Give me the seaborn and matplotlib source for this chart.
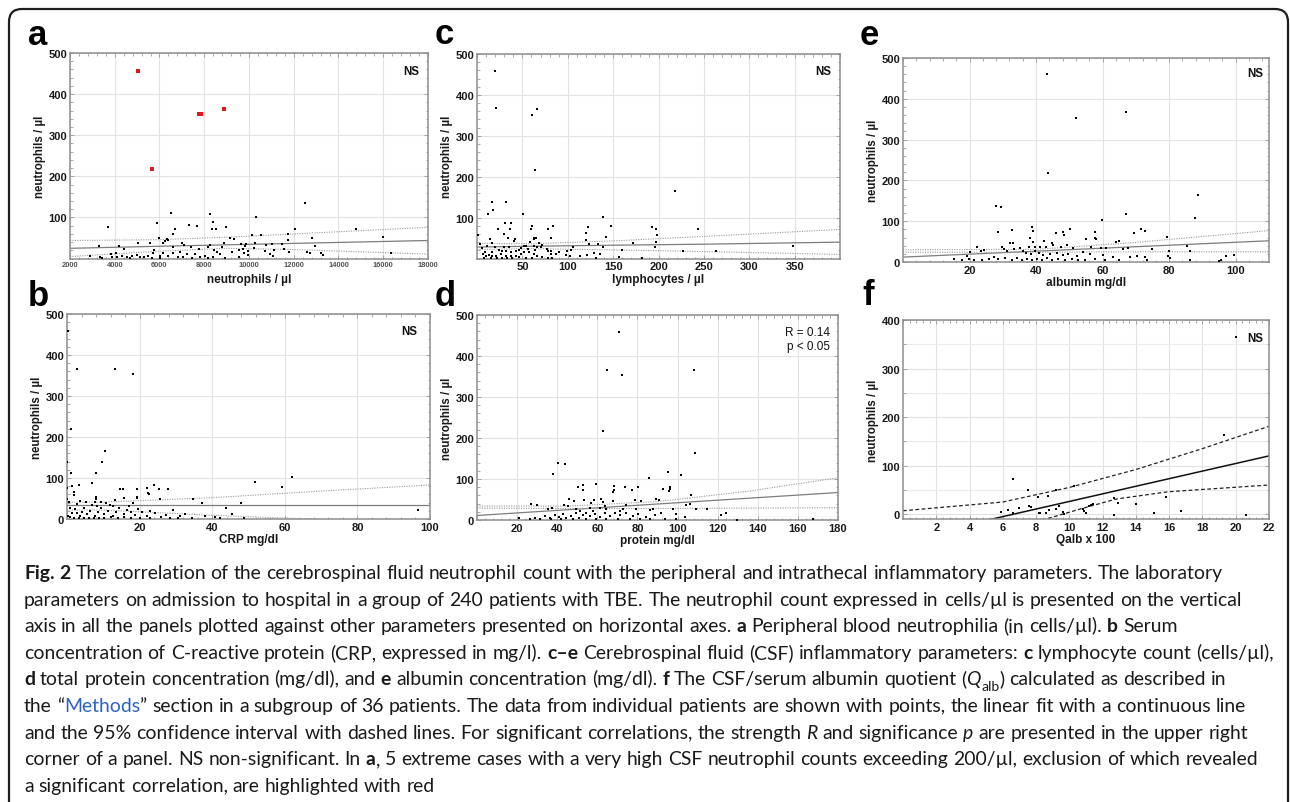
import re
import matplotlib
matplotlib.use("Agg")
import matplotlib.pyplot as plt
import seaborn as sns
import pandas as pd
from matplotlib.transforms import IdentityTransform
from matplotlib.patches import FancyBboxPatch
from matplotlib.ticker import MultipleLocator, AutoMinorLocator

# ---------------- data ----------------
# panel a: peripheral neutrophils (x) vs CSF neutrophils (y)
a_points = [(3685,78),(6518,110),(8277,108),(10335,102),(12482,136),(5877,86),(7323,81),(7696,80),
            (8396,88),(8366,73),(8530,73),(8993,76),(6711,72),(14793,73),(15986,52),(16344,13),
            (12064,72),(11721,61),(11765,46),(12810,49),(10153,58),(10526,57),(9173,49),(9322,47),
            (5981,51),(6592,59),(6323,48),(6398,45),(6249,42),(6175,39),(5563,37),(5057,37),
            (3282,31),(4177,31),(4400,23),(5772,22),(6622,27),(7025,37),(7100,34),(7413,29),
            (7785,24),(8262,34),(8158,27),(8441,22),(8888,39),(8798,28),(9575,22),(9635,36),
            (9828,31),(9888,36),(9739,23),(9933,18),(9769,13),(9962,8),(10216,25),(10290,37),
            (10693,18),(10767,33),(11050,36),(11125,20),(10960,12),(11065,7),(11468,36),(11572,23),
            (11781,15),(12601,17),(12735,14),(12958,31),(13197,13),(13287,9),(9560,5),(9232,15),
            (8709,11),(8575,15),(8411,3),(8024,7),(7591,10),(7249,12),(6920,15),(6845,5),
            (6607,13),(6398,7),(6175,13),(6026,7),(5728,13),(5474,7),(5290,4),(5141,3),
            (4992,9),(4768,6),(4545,4),(4321,7),(4097,4),(3873,3),(3425,2),(2895,6),
            (3350,3),(7070,3),(7442,2),(7815,3),(8188,2),(8933,2),(6026,2),(5653,2),
            (4684,2),(3850,12),(4060,13)]
a_red_points = [(5053,457),(5650,217),(7750,352),(7870,352),(8900,364)]
a_fit_x = [2000, 6000, 9000, 12000, 18000]
a_fit_y = [25, 30, 33.5, 37, 44]
a_up_y = [44, 46, 52, 60, 76]
a_lo_y = [5, 18, 25, 22, 11]

# panel c: CSF lymphocytes
c_points = [(19.7,459),(20.4,367),(61,352),(66.6,366),(64,217),(218.5,164),(16.4,137),(32,138),
            (18,119),(12.3,110),(51,109),(139,102),(30.8,88),(38,86),(23.4,72),(36.7,71),
            (60.3,80),(60,72),(78,73),(83.6,80),(122.8,78),(148,80),(193,76),(197,72),
            (243,73),(1.2,57),(29.3,59),(34.5,49),(41.5,48),(41,44),(63,50),(65,49),
            (62.7,48),(82,49),(120,62),(142,53),(198.7,57),(120,45),(123.6,35),(132.8,35),
            (138.4,27),(171.9,37),(197,40),(196,27),(159.7,22),(227.4,18),(263.6,19),(348,31),
            (105.4,27),(104,22),(99,18),(90.6,15),(98,9),(102.5,5),(114,5),(121.7,9),
            (129,13),(135.7,12),(131,2),(156,3),(182,1),(87,11),(82,18),(77,23),
            (70.7,28),(68.5,37),(63,31),(58.5,40),(54.4,31),(56.3,23),(51.8,17),(48,12),
            (42.6,7),(37,5),(31.5,7),(26,11),(21.2,7),(16.7,5),(13,9),(9.4,5),
            (6.4,10),(3,36),(13.8,47),(16.7,37),(10.5,31),(19.7,27),(24,22),(27.8,18),
            (32,18),(37,15),(42.6,18),(46.3,22),(51.8,31),(57.4,15),(63,11),(66.6,7),
            (72,3),(77.7,2),(83,2),(46,3),(39,2),(22,2),(28,2),(33,2),
            (53.7,2),(61,2),(15,2),(7.5,2),(8.6,17),(5.7,25),(16.7,15),(30,29),
            (35,27),(48,25),(64,22),(66.6,27),(71.4,33),(77.7,19),(81,10)]
c_fit_x = [0, 60, 150, 250, 400]
c_fit_y = [28, 30, 32.5, 35, 40]
c_up_y = [37, 36, 43, 54, 71]
c_lo_y = [22, 24, 21, 17, 10]

# panel e: CSF albumin
e_points = [(43.2,460),(52.1,354),(66.9,367),(43.5,219),(88.6,165),(28,138),(29.4,136),(66.9,118),
            (87.7,109),(59.7,102),(38.8,85),(39.1,75),(28.7,73),(32.8,79),(50.1,82),(45.9,71),
            (48.1,73),(48.4,65),(57.8,73),(71.4,82),(72.7,76),(69.5,72),(79.4,61),(64,49),
            (65,52),(57.9,56),(57.7,59),(55.1,57),(42.3,51),(38.2,58),(39,49),(45,41),
            (44.9,47),(49.4,42),(51,35),(32.2,47),(33.2,46),(37.9,37),(39.8,37),(41.2,37),
            (42.9,37),(47.4,37),(56.4,37),(61,34),(59.4,34),(67.7,35),(66.2,31),(74.7,31),
            (85.4,38),(86.2,27),(80,26),(79.7,15),(80.1,10),(22.2,37),(23.5,27),(24.2,29),
            (29.7,36),(30.4,31),(31.2,27),(33.5,31),(35.2,35),(36.2,27),(37,23),(38.5,20),
            (39.7,26),(40.9,23),(42.2,18),(44.2,20),(46.2,23),(48.2,16),(49.7,20),(52.2,15),
            (54.2,25),(56.2,20),(60.2,16),(63.2,12),(64.8,4),(68.2,12),(70.2,15),(72.7,12),
            (73.2,4),(97.2,15),(99.4,16),(94.9,2),(95.7,4),(86.2,4),(19.2,15),(19.7,8),
            (17.7,4),(15.2,7),(25.7,8),(27.2,12),(28.7,7),(30.7,10),(32.7,6),(34.2,10),
            (35.7,4),(37.2,8),(38.7,4),(40.2,8),(41.7,4),(43.2,10),(44.7,4),(46.7,8),
            (48.7,4),(50.7,7),(52.7,4),(54.7,4),(57.7,7),(60.7,4),(21.2,4),(23.7,4),(20.2,25)]
e_fit_x = [0, 40, 70, 110]
e_fit_y = [12, 26.5, 37.5, 52]
e_up_y = [30, 31, 48, 77]
e_lo_y = [24, 24, 25, 25]

# panel b: CRP
b_points = [(0.2,459),(2.8,367),(13.2,367),(18.1,354),(1.1,220),(10.4,165),(0,140),(9.6,138),
            (1.1,111),(7.9,111),(51.7,90),(59.3,77),(61.9,103),(96.6,21),(0,76),(1.4,80),
            (1.8,66),(1.8,59),(3.4,84),(6.8,87),(7.9,49),(8.1,53),(14.7,72),(15.3,74),
            (19.3,72),(19.3,53),(19.3,51),(15.8,51),(13.2,46),(22,75),(23.9,83),(22.3,63),
            (22.5,60),(25.4,72),(27.9,73),(25.6,48),(34.7,50),(37.1,39),(47.8,38),(43.8,28),
            (45.5,12),(48.7,2),(40.7,6),(42.1,3),(38,8),(32.6,11),(31,7),(29.1,23),
            (27.4,10),(26,4),(24.2,14),(23,20),(22.1,7),(20.6,16),(19.5,24),(18.6,10),
            (17.7,16),(16.6,23),(15.6,12),(14.4,26),(13.5,16),(12.6,8),(11.9,34),(11.2,20),
            (10.2,12),(9.5,26),(8.6,16),(7.6,7),(7,33),(6.3,20),(5.6,12),(4.8,26),
            (4.2,16),(3.5,7),(2.8,37),(2.1,24),(1.5,15),(0.7,28),(0.2,8),(0,49),
            (0.5,41),(0.9,4),(1.9,2),(3.3,2),(4.7,2),(6,2),(7.4,2),(8.8,2),
            (10.2,2),(12,4),(14,2),(15.8,4),(17.7,2),(20,3),(22.8,2),(28.4,2),
            (30.7,2),(34.4,2),(3.7,45),(5.1,42),(7.6,41),(9.3,42),(10.7,39),(18.1,38),
            (17.2,31),(12.6,31),(8.4,31),(2.8,15)]
b_fit_x = [0, 10, 40, 70, 100]
b_fit_y = [33, 33, 33, 33, 33]
b_up_y = [41, 41, 52, 68, 83]
b_lo_y = [22, 22, 9, -1, -12]

# panel d: CSF protein
d_points = [(70.7,459),(65,366),(72.2,353),(108.2,366),(63,218),(108.7,164),(40.2,138),(44.1,137),
            (37.7,111),(95.4,118),(101.7,109),(86,103),(59.4,89),(53,86),(53,74),(50.5,80),
            (68.5,82),(67.6,69),(68.5,72),(77.1,74),(74,81),(80.3,81),(95.7,71),(96.4,81),
            (96.1,75),(92.8,75),(106.9,62),(81.8,46),(78.6,48),(89.4,52),(90.8,50),(58.5,50),
            (61.7,51),(62.7,44),(67.6,47),(53.2,49),(48.4,47),(45.7,51),(43.2,36),(45.5,33),
            (26.8,38),(29.9,37),(35.4,28),(37.6,30),(106.2,38),(104,36),(109,28),(114.5,28),
            (124.2,18),(121.9,11),(129.7,1),(167.6,2),(103.7,8),(99,14),(91.9,16),(88.6,12),
            (84.4,8),(80.3,14),(77.8,9),(74.5,18),(71.2,11),(68.7,18),(66.2,10),(63.7,16),
            (61.2,8),(58.7,15),(56.2,10),(54.5,18),(52.9,11),(50.9,6),(49.2,16),(47,10),
            (44.6,6),(42.9,14),(40.9,8),(38.7,11),(36.2,6),(33.7,10),(31.3,3),(28.8,6),
            (21,6),(26.3,2),(37.1,2),(42.1,2),(47.9,2),(54.5,2),(59.5,2),(64.5,2),
            (70.3,2),(76.1,2),(81.1,2),(86.1,2),(93.6,2),(99.4,2),(49.6,26),(56.2,30),
            (61.2,30),(64.5,26),(72.8,28),(79.5,26),(87.8,28),(97.8,28),(51.2,22),(57.9,22),
            (71.2,22),(86.1,24),(57,41),(63.7,34),(74.5,36)]
d_fit_x = [0, 45, 90, 135, 180]
d_fit_y = [11, 25, 39, 53, 67]
d_up_y = [34, 34, 45, 70, 103]
d_lo_y = [29, 28, 28, 29, 30]

# panel f: Qalb x 100 (subgroup of 36 patients)
f_points = [(20,366),(19.3,164),(6.6,73),(7.5,49),(9.2,49),(10.3,57),(8.1,36),(8.7,38),
            (7.6,16),(7.7,15),(9.4,17),(5.9,5),(6.3,8),(6.6,3),(7.0,12),(8.2,3),
            (8.25,3),(8.6,3),(8.8,9),(9.2,10),(9.6,5),(9.7,0),(10.8,10),(10.9,7),
            (11,3),(11.3,18),(11.4,21),(12.7,34),(12.9,22),(12.7,-1),(14,21),(15.1,3),
            (15.8,36),(16.7,7),(20.6,-1),(11.2,16)]
f_fit_x = [0, 22]
f_fit_y = [-52, 120]
f_up_x = [0, 6, 10, 14, 18, 22]
f_up_y = [7, 25, 55, 92, 135, 181]
f_lo_x = [8.0, 10.8, 12.8, 15.9, 22]
f_lo_y = [-16, 12, 31, 46, 60]

caption_lines = [
    "[b]Fig. 2[/b] The correlation of the cerebrospinal fluid neutrophil count with the peripheral and intrathecal inflammatory parameters. The laboratory",
    "parameters on admission to hospital in a group of 240 patients with TBE. The neutrophil count expressed in cells/µl is presented on the vertical",
    "axis in all the panels plotted against other parameters presented on horizontal axes. [b]a[/b] Peripheral blood neutrophilia (in cells/µl). [b]b[/b] Serum",
    "concentration of C-reactive protein (CRP, expressed in mg/l). [b]c–e[/b] Cerebrospinal fluid (CSF) inflammatory parameters: [b]c[/b] lymphocyte count (cells/µl),",
    "[b]d[/b] total protein concentration (mg/dl), and [b]e[/b] albumin concentration (mg/dl). [b]f[/b] The CSF/serum albumin quotient ([i]Q[/i][sub]alb[/sub]) calculated as described in",
    "the “[u]Methods[/u]” section in a subgroup of 36 patients. The data from individual patients are shown with points, the linear fit with a continuous line",
    "and the 95% confidence interval with dashed lines. For significant correlations, the strength [i]R[/i] and significance [i]p[/i] are presented in the upper right",
    "corner of a panel. NS non-significant. In [b]a[/b], 5 extreme cases with a very high CSF neutrophil counts exceeding 200/µl, exclusion of which revealed",
    "a significant correlation, are highlighted with red",
]

# ---------------- figure ----------------
sns.set_theme(style="whitegrid")
plt.rcParams['font.family'] = ['Liberation Sans', 'DejaVu Sans']
plt.rcParams['axes.unicode_minus'] = False

W, H = 1290, 803
fig = plt.figure(figsize=(W / 100, H / 100), dpi=100)
fig.patch.set_facecolor('white')


def rect(x0, y0, x1, y1):
    return [x0 / W, 1 - y1 / H, (x1 - x0) / W, (y1 - y0) / H]


def df_of(points):
    return pd.DataFrame(points, columns=['x', 'y'])


panels = [
    dict(letter='a', lpos=(28, 45), box=(70, 54, 428, 259.6), pts=a_points, red=a_red_points,
         fit=(a_fit_x, a_fit_y), up=(a_fit_x, a_up_y), lo=(a_fit_x, a_lo_y),
         xlim=(2000, 18000), ylim=(0, 500), xticks=list(range(2000, 18001, 2000)), xtick_size=5.4,
         yticks=[100, 200, 300, 400, 500], xlabel='neutrophils / µl', labelpad=3.5,
         note='NS', npos=(0.975, 0.94), kind='gray'),
    dict(letter='c', lpos=(435, 44), box=(477, 55, 840, 259.5), pts=c_points, red=None,
         fit=(c_fit_x, c_fit_y), up=(c_fit_x, c_up_y), lo=(c_fit_x, c_lo_y),
         xlim=(0, 400), ylim=(0, 500), xticks=[50, 100, 150, 200, 250, 300, 350], xtick_size=8,
         yticks=[100, 200, 300, 400, 500], xlabel='lymphocytes / µl', labelpad=1,
         note='NS', npos=(0.975, 0.948), kind='gray'),
    dict(letter='e', lpos=(860, 45), box=(903, 59, 1269, 263), pts=e_points, red=None,
         fit=(e_fit_x, e_fit_y), up=(e_fit_x, e_up_y), lo=(e_fit_x, e_lo_y),
         xlim=(0, 110), ylim=(0, 500), xticks=[20, 40, 60, 80, 100], xtick_size=8,
         yticks=[0, 100, 200, 300, 400, 500], xlabel='albumin mg/dl', labelpad=1,
         note='NS', npos=(0.985, 0.954), kind='gray'),
    dict(letter='b', lpos=(28, 306), box=(67, 315, 430, 520), pts=b_points, red=None,
         fit=(b_fit_x, b_fit_y), up=(b_fit_x, b_up_y), lo=(b_fit_x, b_lo_y),
         xlim=(0, 100), ylim=(0, 500), xticks=[20, 40, 60, 80, 100], xtick_size=8,
         yticks=[0, 100, 200, 300, 400, 500], xlabel='CRP mg/dl', labelpad=1,
         note='NS', npos=(0.966, 0.946), kind='gray'),
    dict(letter='d', lpos=(435, 306), box=(477, 316, 838, 521), pts=d_points, red=None,
         fit=(d_fit_x, d_fit_y), up=(d_fit_x, d_up_y), lo=(d_fit_x, d_lo_y),
         xlim=(0, 180), ylim=(0, 500), xticks=[20, 40, 60, 80, 100, 120, 140, 160, 180], xtick_size=8,
         yticks=[0, 100, 200, 300, 400, 500], xlabel='protein mg/dl', labelpad=1,
         note='R = 0.14\np < 0.05', npos=(0.978, 0.948), kind='gray'),
    dict(letter='f', lpos=(862, 305), box=(903, 321, 1269, 520), pts=f_points, red=None,
         fit=(f_fit_x, f_fit_y), up=(f_up_x, f_up_y), lo=(f_lo_x, f_lo_y),
         xlim=(0, 22), ylim=(-10, 400), xticks=[2, 4, 6, 8, 10, 12, 14, 16, 18, 20, 22], xtick_size=8,
         yticks=[0, 100, 200, 300, 400], xlabel='Qalb x 100', labelpad=1,
         note='NS', npos=(0.985, 0.938), kind='black'),
]

for p in panels:
    ax = fig.add_axes(rect(*p['box']))
    ax.set_facecolor('white')
    if p['kind'] == 'gray':
        lc, bc, lw, bls, blw = '#7d7d7d', '#9a9a9a', 0.9, (0, (1, 1.2)), 0.8
    else:
        lc, bc, lw, bls, blw = '#111111', '#222222', 1.1, (0, (3, 2)), 0.9
    fx, fy = p['fit']
    sns.lineplot(x=fx, y=fy, ax=ax, color=lc, lw=lw, estimator=None, sort=True, zorder=2)
    ux, uy = p['up']
    sns.lineplot(x=ux, y=uy, ax=ax, color=bc, lw=blw, linestyle=bls, estimator=None, sort=True, zorder=2)
    lx, ly = p['lo']
    sns.lineplot(x=lx, y=ly, ax=ax, color=bc, lw=blw, linestyle=bls, estimator=None, sort=True, zorder=2)
    sns.scatterplot(data=df_of(p['pts']), x='x', y='y', ax=ax, color='black', marker='s',
                    s=4.2, linewidth=0, zorder=3, clip_on=True)
    if p['red'] is not None:
        sns.scatterplot(data=df_of(p['red']), x='x', y='y', ax=ax, color='#e5161d', marker='s',
                        s=5.5, linewidth=0, zorder=4)
    ax.set_xlim(*p['xlim'])
    ax.set_ylim(*p['ylim'])
    ax.set_xticks(p['xticks'], labels=[str(t) for t in p['xticks']],
                  fontsize=p['xtick_size'], fontweight='bold',
                  color='#555555' if p['letter'] == 'a' else '#1a1a1a')
    ax.set_yticks(p['yticks'], labels=[str(t) for t in p['yticks']],
                  fontsize=8, fontweight='bold', color='#1a1a1a')
    ax.xaxis.set_minor_locator(AutoMinorLocator(5))
    if p['letter'] == 'f':
        ax.yaxis.set_minor_locator(MultipleLocator(50))
        ax.grid(True, which='minor', axis='y', color='#ebebeb', lw=0.8)
    else:
        ax.yaxis.set_minor_locator(AutoMinorLocator(5))
    ax.grid(True, which='major', color='#e2e2e2', lw=0.8)
    ax.set_axisbelow(True)
    ax.tick_params(which='both', direction='in', top=True, right=True, bottom=True, left=True,
                   color='#9a9a9a', width=0.6)
    ax.tick_params(which='major', length=3, pad=2)
    ax.tick_params(which='minor', length=1.8)
    for s in ax.spines.values():
        s.set_color('#8e8e8e')
        s.set_linewidth(1.1)
    ax.set_xlabel(p['xlabel'], fontsize=8.5, fontweight='bold', color='#1a1a1a', labelpad=p['labelpad'])
    ax.set_ylabel('neutrophils / µl', fontsize=8.3, fontweight='bold', color='#1a1a1a', labelpad=2)
    ax.text(p['npos'][0], p['npos'][1], p['note'], transform=ax.transAxes, ha='right', va='top',
            fontsize=8.3 if p['note'] == 'NS' else 8.5,
            fontweight='bold' if p['note'] == 'NS' else 'normal', color='#111111',
            linespacing=1.25)
    fig.text(p['lpos'][0], H - p['lpos'][1], p['letter'], transform=IdentityTransform(),
             fontsize=25, fontweight='bold', color='black', ha='left', va='baseline')

# outer rounded frame (bottom edge runs off the picture)
frame = FancyBboxPatch((9, -40), 1279, H - 10 + 40, boxstyle='round,pad=0,rounding_size=13',
                       transform=IdentityTransform(), fill=False, edgecolor='#1e1e1e', lw=1.6)
fig.add_artist(frame)

# ---------------- caption with mixed styles ----------------
renderer = fig.canvas.get_renderer()
CAP_FONT = ['Lato', 'DejaVu Sans']


def parse(line):
    state = {'b': False, 'i': False, 'u': False, 'sub': False}
    runs = []
    for tok in re.split(r'(\[/?(?:b|i|u|sub)\])', line):
        m = re.fullmatch(r'\[(/?)(b|i|u|sub)\]', tok)
        if m:
            state[m.group(2)] = (m.group(1) == '')
        elif tok:
            runs.append((tok, dict(state)))
    return runs


def props_of(st, size):
    return dict(family=CAP_FONT, fontsize=size * (0.72 if st['sub'] else 1.0),
                fontweight='bold' if st['b'] else 'normal',
                fontstyle='italic' if st['i'] else 'normal',
                color='#2b62c4' if st['u'] else '#1a1a1a')


_cache = {}


def width_of(s, pr):
    key = (s, tuple(sorted((k, str(v)) for k, v in pr.items() if k != 'color')))
    if key not in _cache:
        t = fig.text(0, 0, s, transform=IdentityTransform(), **pr)
        _cache[key] = t.get_window_extent(renderer).width
        t.remove()
    return _cache[key]


def advance(s, pr):
    return width_of('|' + s + '|', pr) - width_of('||', pr)


def layout(line, size, x0, base, draw):
    x = x0
    for text, st in parse(line):
        pr = props_of(st, size)
        dy = -0.28 * size * 100 / 72 if st['sub'] else 0
        for piece in re.split(r'( )', text):
            if piece == '':
                continue
            if piece == ' ':
                x += advance(' ', pr)
                continue
            if draw:
                fig.text(x, H - base + dy, piece, transform=IdentityTransform(), ha='left',
                         va='baseline', **pr)
            x += advance(piece, pr)
    return x - x0


cap_x = 24
widest = max(layout(line, 10, 0, 0, False) for line in caption_lines)
cap_size = 10 * (1276 - cap_x) / widest
cap_base0 = 579
cap_step = 26.6
for k, line in enumerate(caption_lines):
    layout(line, cap_size, cap_x, cap_base0 + k * cap_step, True)

fig.savefig('out.png', dpi=100, facecolor='white')
